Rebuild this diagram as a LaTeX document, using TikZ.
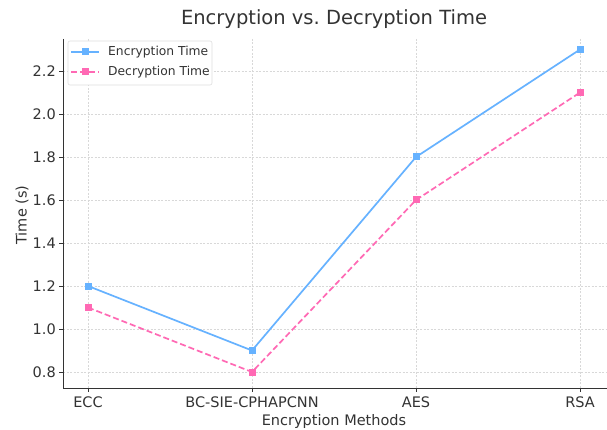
\documentclass[tikz,border=0pt]{standalone}
\usepackage{fontspec}
\setmainfont{DejaVu Sans}
\usetikzlibrary{calc}
\definecolor{encblue}{HTML}{66B2FF}
\definecolor{decpink}{HTML}{FF69B4}
\definecolor{txt}{HTML}{333333}
\definecolor{gridc}{HTML}{D8D8D8}
\begin{document}
\begin{tikzpicture}[x=1pt,y=-1pt,
  gridline/.style={gridc,line width=0.6pt,dash pattern=on 2pt off 1.5pt},
  spine/.style={txt,line width=1pt},
  tickmark/.style={txt,line width=0.9pt},
  ticklab/.style={text=txt,font=\fontsize{14.5}{16}\selectfont,inner sep=0pt},
  enc/.style={encblue,line width=1.7pt},
  dec/.style={decpink,line width=1.7pt,dash pattern=on 6pt off 3pt},
  encmark/.style={fill=encblue,draw=none,minimum size=7pt,inner sep=0pt},
  decmark/.style={fill=decpink,draw=none,minimum size=7pt,inner sep=0pt},
  legtext/.style={text=txt,font=\fontsize{12.3}{14}\selectfont,anchor=west,inner sep=0pt}]
\useasboundingbox (0,0) rectangle (607,430);
\fill[white] (0,0) rectangle (607,430);
% grid
\foreach \xx in {88,252,416,580} \draw[gridline] (\xx,39) -- (\xx,388);
\foreach \yy in {71,114,157,200,243,286,329,372} \draw[gridline] (63,\yy) -- (607,\yy);
% spines
\draw[spine] (63,39) -- (63,388) -- (607,388);
% y ticks
\foreach \yy/\lab in {71/2.2,114/2.0,157/1.8,200/1.6,243/1.4,286/1.2,329/1.0,372/0.8}{
  \draw[tickmark] (59,\yy) -- (63,\yy);
  \node[ticklab,anchor=east] (y\lab) at (56,\yy) {\lab};
}
% x ticks
\foreach \xx/\lab/\nm in {88/ECC/ecc,252/BC-SIE-CPHAPCNN/bc,416/AES/aes,580/RSA/rsa}{
  \draw[tickmark] (\xx,388) -- (\xx,392);
  \node[ticklab,anchor=base] (x\nm) at (\xx,407) {\lab};
}
% labels
\node[text=txt,font=\fontsize{19.5}{22}\selectfont] (title) at (334,19) {Encryption vs.\ Decryption Time};
\node[text=txt,font=\fontsize{14.5}{16}\selectfont,anchor=base] (xlabel) at (334,425) {Encryption Methods};
\node[text=txt,font=\fontsize{14.5}{16}\selectfont,rotate=90] (ylabel) at (22,215) {Time (s)};
% data points
\coordinate (e1) at (88,286);
\coordinate (e2) at (252,350.5);
\coordinate (e3) at (416,157);
\coordinate (e4) at (580,49.5);
\coordinate (d1) at (88,307.5);
\coordinate (d2) at (252,372);
\coordinate (d3) at (416,200);
\coordinate (d4) at (580,92.5);
\draw[enc] (e1) -- (e2) -- (e3) -- (e4);
\draw[dec] (d1) -- (d2) -- (d3) -- (d4);
\foreach \i in {1,2,3,4}{
  \node[encmark] (me\i) at (e\i) {};
  \node[decmark] (md\i) at (d\i) {};
}
% legend
\draw[gridc!80!black!40,fill=white,line width=0.6pt,rounded corners=2pt] (68,41) rectangle (212,85);
\coordinate (la1) at (71,52);
\coordinate (lb1) at (99,52);
\coordinate (la2) at (71,72);
\coordinate (lb2) at (99,72);
\draw[enc] (la1) -- (lb1);
\node[encmark] (lm1) at ($(la1)!0.5!(lb1)$) {};
\draw[dec,dash pattern=on 6pt off 3pt] (la2) -- (lb2);
\node[decmark] (lm2) at ($(la2)!0.5!(lb2)$) {};
\node[legtext] (lt1) at (108,52) {Encryption Time};
\node[legtext] (lt2) at (108,72) {Decryption Time};
\end{tikzpicture}
\end{document}
